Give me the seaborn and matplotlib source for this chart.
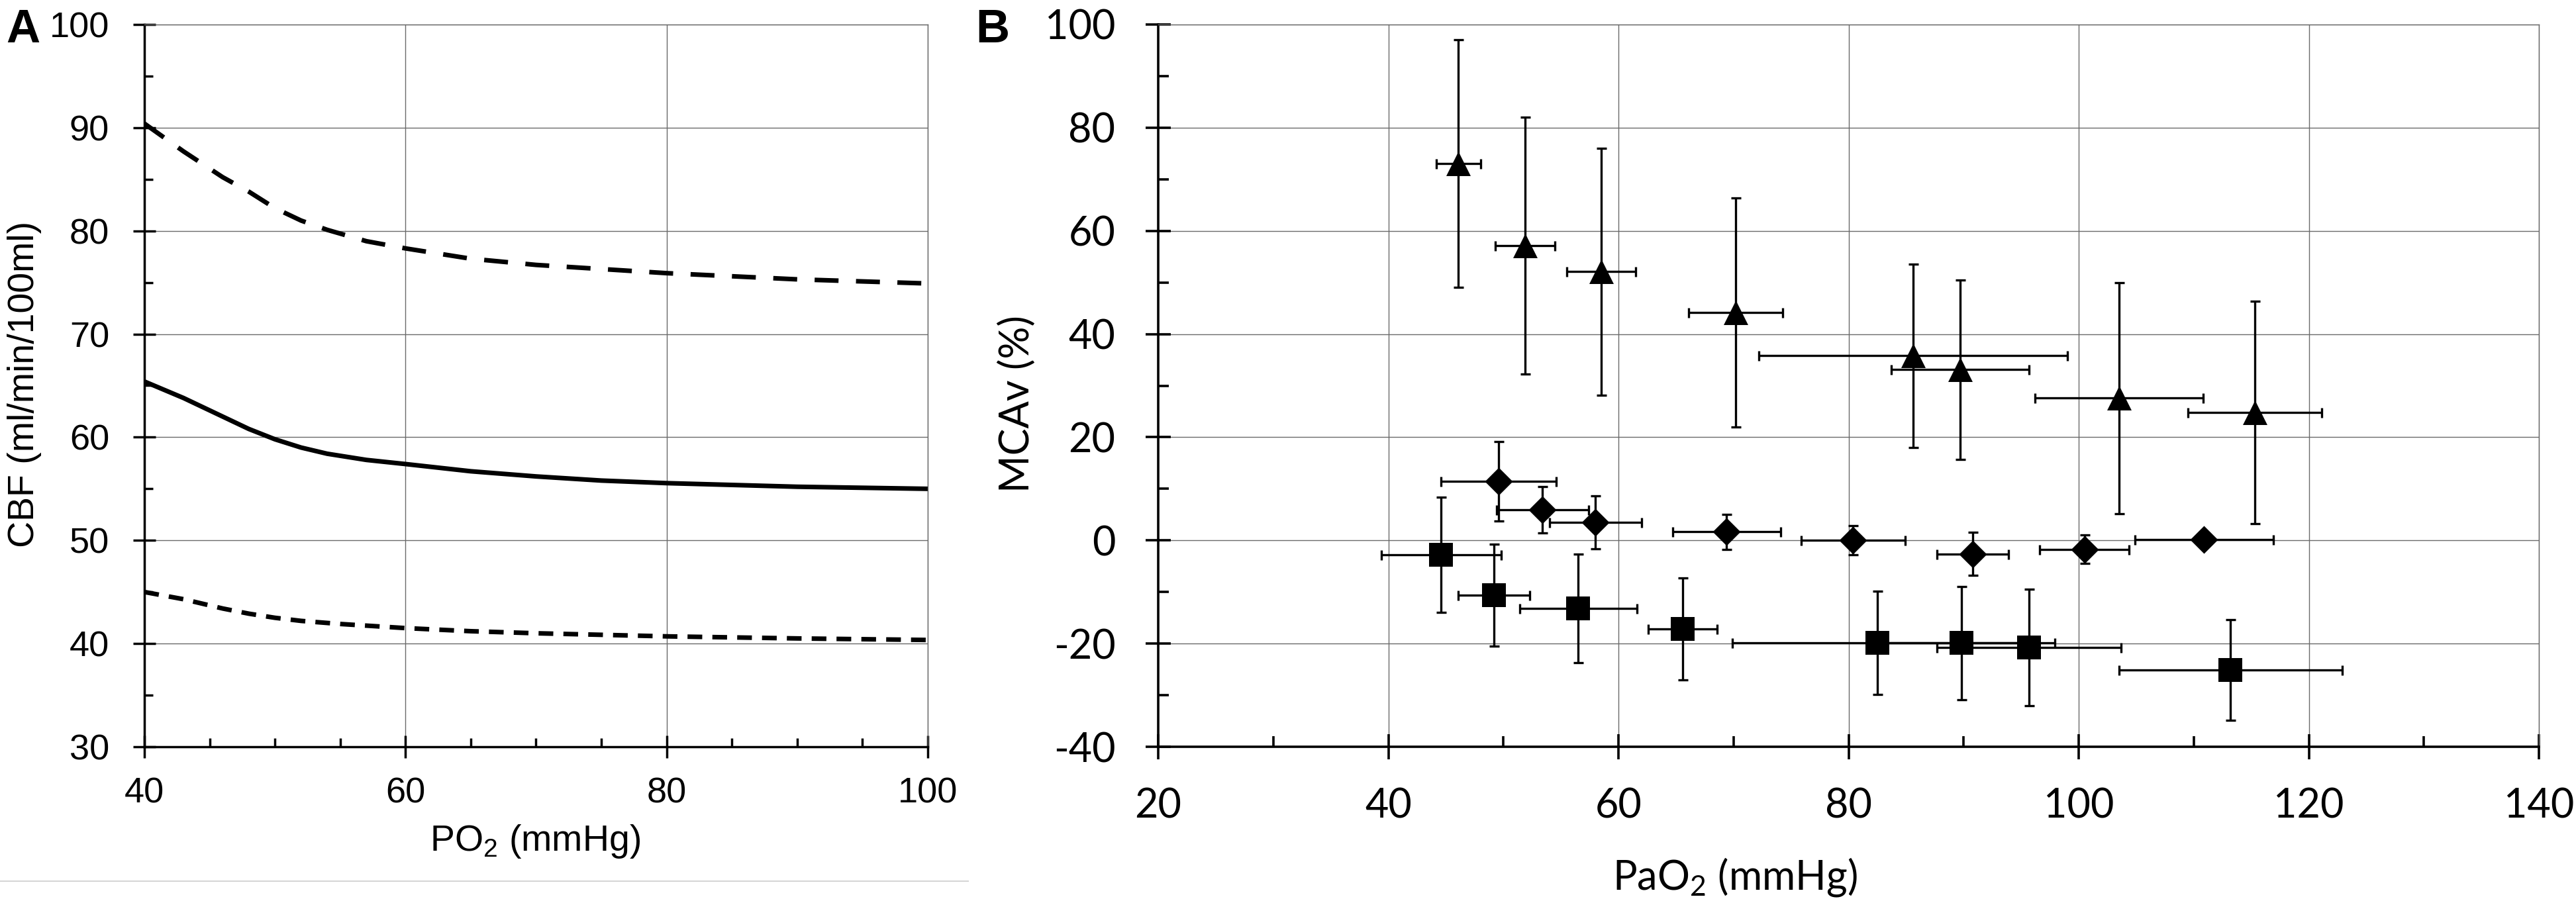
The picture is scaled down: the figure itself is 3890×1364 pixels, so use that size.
import matplotlib
matplotlib.use("Agg")
import matplotlib.pyplot as plt
from matplotlib.ticker import MultipleLocator
from matplotlib.lines import Line2D
import numpy as np
import pandas as pd
import seaborn as sns

# ---------------- data ----------------
# Panel A: modelled CBF vs PO2
a_upper_x = [40, 43, 46, 48, 50, 52, 54, 57, 60, 65, 70, 75, 80, 85, 90, 95, 100]
a_upper_y = [90.4, 87.7, 85.2, 83.8, 82.2, 81.0, 80.1, 79.0, 78.3, 77.3, 76.7, 76.3, 75.9, 75.6, 75.3, 75.1, 74.9]
a_mean_x = [40, 43, 45, 48, 50, 52, 54, 57, 60, 65, 70, 75, 80, 90, 100]
a_mean_y = [65.4, 63.8, 62.6, 60.8, 59.8, 59.0, 58.4, 57.8, 57.4, 56.7, 56.2, 55.8, 55.55, 55.2, 55.0]
a_lower_x = [40, 43, 46, 48, 50, 52, 55, 60, 65, 70, 80, 90, 100]
a_lower_y = [45.0, 44.3, 43.4, 42.9, 42.5, 42.2, 41.9, 41.5, 41.2, 41.0, 40.7, 40.5, 40.35]

# Panel B: MCAv vs PaO2 (three groups)
tri_x = [46.1, 51.9, 58.5, 70.2, 85.6, 89.7, 103.5, 115.3]
tri_y = [73.0, 57.1, 52.1, 44.2, 35.8, 33.1, 27.6, 24.8]
tri_xerr = [1.9, 2.6, 3.0, 4.1, 13.4, 6.0, 7.3, 5.8]
tri_yerr = [24.0, 24.9, 23.9, 22.2, 17.8, 17.4, 22.4, 21.6]

dia_x = [49.6, 53.4, 58.0, 69.4, 80.4, 90.8, 100.5, 110.9]
dia_y = [11.4, 5.9, 3.5, 1.7, 0.0, -2.6, -1.7, 0.2]
dia_xerr = [5.0, 4.0, 4.0, 4.7, 4.5, 3.1, 3.9, 6.0]
dia_yerr = [7.7, 4.5, 5.1, 3.4, 2.8, 4.2, 2.8, 1.0]

sq_x = [44.6, 49.2, 56.5, 65.6, 82.5, 89.8, 95.7, 113.2]
sq_y = [-2.8, -10.6, -13.2, -17.2, -19.8, -19.9, -20.7, -25.1]
sq_xerr = [5.2, 3.1, 5.1, 3.0, 12.6, 8.1, 8.0, 9.7]
sq_yerr = [11.2, 9.9, 10.5, 9.9, 10.0, 11.0, 11.3, 9.8]

a_xticks = [40, 60, 80, 100]
a_yticks = [30, 40, 50, 60, 70, 80, 90, 100]
b_xticks = [20, 40, 60, 80, 100, 120, 140]
b_yticks = [-40, -20, 0, 20, 40, 60, 80, 100]

# ---------------- figure ----------------
plt.rcParams['axes.unicode_minus'] = False
W, H = 3890, 1364
fig = plt.figure(figsize=(W / 100, H / 100), dpi=100)

FA = 'Liberation Sans'
FB = 'Lato'
GRID_C = '#6a6a6a'
GRID_LW = 1.0

def px2fig(x0, y0, x1, y1):
    return [x0 / W, (H - y1) / H, (x1 - x0) / W, (y1 - y0) / H]

axA = fig.add_axes(px2fig(218, 37, 1401, 1128))
axB = fig.add_axes(px2fig(1749, 37, 3834, 1128))

# ---- Panel A ----
dfA = pd.concat([
    pd.DataFrame({'po2': a_upper_x, 'cbf': a_upper_y, 'curve': 'upper'}),
    pd.DataFrame({'po2': a_mean_x, 'cbf': a_mean_y, 'curve': 'mean'}),
    pd.DataFrame({'po2': a_lower_x, 'cbf': a_lower_y, 'curve': 'lower'}),
])
sns.lineplot(data=dfA, x='po2', y='cbf', units='curve', style='curve',
             estimator=None, errorbar=None, legend=False, ax=axA,
             color='black', linewidth=5.0,
             dashes={'upper': (5.2, 3.8), 'mean': '', 'lower': (3.2, 2.2)},
             style_order=['upper', 'mean', 'lower'])

axA.set_xlim(40, 100)
axA.set_ylim(30, 100)
axA.set_xticks(a_xticks)
axA.set_yticks(a_yticks)
axA.xaxis.set_minor_locator(MultipleLocator(5))
axA.yaxis.set_minor_locator(MultipleLocator(5))
axA.grid(True, which='major', color=GRID_C, linewidth=GRID_LW)
axA.set_axisbelow(True)
axA.tick_params(which='major', direction='inout', length=24, width=2.5,
                labelsize=39, labelfontfamily=FA)
axA.tick_params(axis='y', which='major', pad=26)
axA.tick_params(axis='x', which='major', pad=21)
axA.tick_params(which='minor', direction='in', length=9.5, width=2.5)
for s in ['left', 'bottom']:
    axA.spines[s].set_linewidth(2.5)
for s in ['top', 'right']:
    axA.spines[s].set_color(GRID_C)
    axA.spines[s].set_linewidth(GRID_LW)
axA.set_xlabel(r'PO$_\mathregular{2}$ (mmHg)', fontsize=40, fontfamily=FA, va='baseline')
axA.xaxis.set_label_coords(0.4987, -0.1439)
axA.set_ylabel('CBF (ml/min/100ml)', fontsize=40, fontfamily=FA, va='center')
axA.yaxis.set_label_coords(-0.1526, 0.5023)

# ---- Panel B ----
err_kw = dict(fmt='none', ecolor='black', elinewidth=2.4, capsize=5.4,
              capthick=2.4, zorder=2)
axB.errorbar(tri_x, tri_y, xerr=tri_xerr, yerr=tri_yerr, **err_kw)
axB.errorbar(dia_x, dia_y, xerr=dia_xerr, yerr=dia_yerr, **err_kw)
axB.errorbar(sq_x, sq_y, xerr=sq_xerr, yerr=sq_yerr, **err_kw)

sns.scatterplot(x=tri_x, y=tri_y, marker='^', s=26.6 ** 2, color='black',
                linewidth=0, ax=axB, zorder=3)
sns.scatterplot(x=dia_x, y=dia_y, marker='D', s=21.4 ** 2, color='black',
                linewidth=0, ax=axB, zorder=3)
sns.scatterplot(x=sq_x, y=sq_y, marker='s', s=26.4 ** 2, color='black',
                linewidth=0, ax=axB, zorder=3)

axB.set_xlim(20, 140)
axB.set_ylim(-40, 100)
axB.set_xticks(b_xticks)
axB.set_yticks(b_yticks)
axB.xaxis.set_minor_locator(MultipleLocator(10))
axB.yaxis.set_minor_locator(MultipleLocator(10))
axB.grid(True, which='major', color=GRID_C, linewidth=GRID_LW)
axB.set_axisbelow(True)
axB.tick_params(which='major', direction='inout', length=27, width=2.6,
                labelsize=44, labelfontfamily=FB)
axB.tick_params(axis='y', which='major', pad=33)
axB.tick_params(axis='x', which='major', pad=30.5)
axB.tick_params(which='minor', direction='in', length=11.5, width=2.6)
for s in ['left', 'bottom']:
    axB.spines[s].set_linewidth(2.6)
for s in ['top', 'right']:
    axB.spines[s].set_color(GRID_C)
    axB.spines[s].set_linewidth(GRID_LW)
axB.set_xlabel(r'PaO$_\mathregular{2}$ (mmHg)', fontsize=44, fontfamily=FB, va='baseline')
axB.xaxis.set_label_coords(0.4177, -0.1971)
axB.set_ylabel('MCAv (%)', fontsize=44, fontfamily=FB, va='center')
axB.yaxis.set_label_coords(-0.1019, 0.4748)

# panel letters
fig.text(9 / W, 1 - 13 / H, 'A', fontsize=51, fontweight='bold', fontfamily=FA,
         ha='left', va='top')
fig.text(1473 / W, 1 - 13 / H, 'B', fontsize=51, fontweight='bold', fontfamily=FA,
         ha='left', va='top')

# thin separator under panel A
fig.add_artist(Line2D([0, 1462 / W], [1 - 1331 / H, 1 - 1331 / H],
                      transform=fig.transFigure, color='#d6d6d6', linewidth=1.5))

fig.savefig('out.png', dpi=100)
